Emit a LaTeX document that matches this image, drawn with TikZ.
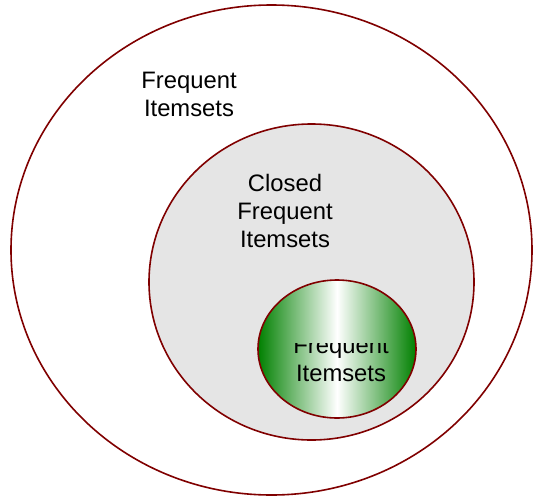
\documentclass[tikz,border=0pt]{standalone}
\usepackage{fontspec}
\setmainfont{Liberation Sans}
\usetikzlibrary{shapes.geometric}
\definecolor{rim}{RGB}{128,0,0}
\definecolor{paleGray}{RGB}{229,229,229}
\definecolor{leafGreen}{RGB}{0,128,0}
\tikzset{
  setshape/.style={ellipse, draw=rim, line width=1.6pt, inner sep=0pt},
  setlabel/.style={align=center, font=\fontsize{23.8}{27.8}\selectfont, inner sep=0pt}
}
\begin{document}
\begin{tikzpicture}[x=1pt, y=-1pt]
  \useasboundingbox (0,0) rectangle (533,498);
  % nested sets
  \node[setshape, fill=white, minimum width=521pt, minimum height=490pt] (all) at (271.5,250) {};
  \node[setshape, fill=paleGray, minimum width=325pt, minimum height=316pt] (closed) at (311.5,282) {};
  \node[setshape, left color=leafGreen, right color=leafGreen, middle color=white,
        minimum width=158pt, minimum height=138pt] (maximal) at (337,349) {};
  % labels (base anchor sits on the last line)
  \node[setlabel, anchor=base] (allText) at (189,116) {Frequent\\Itemsets};
  \node[setlabel, anchor=base] (closedText) at (285,247) {Closed\\Frequent\\Itemsets};
  \begin{scope}
    \clip (250,343) rectangle (430,420);
    \node[setlabel, anchor=base] (maximalText) at (341,381) {Frequent\\Itemsets};
  \end{scope}
\end{tikzpicture}
\end{document}
